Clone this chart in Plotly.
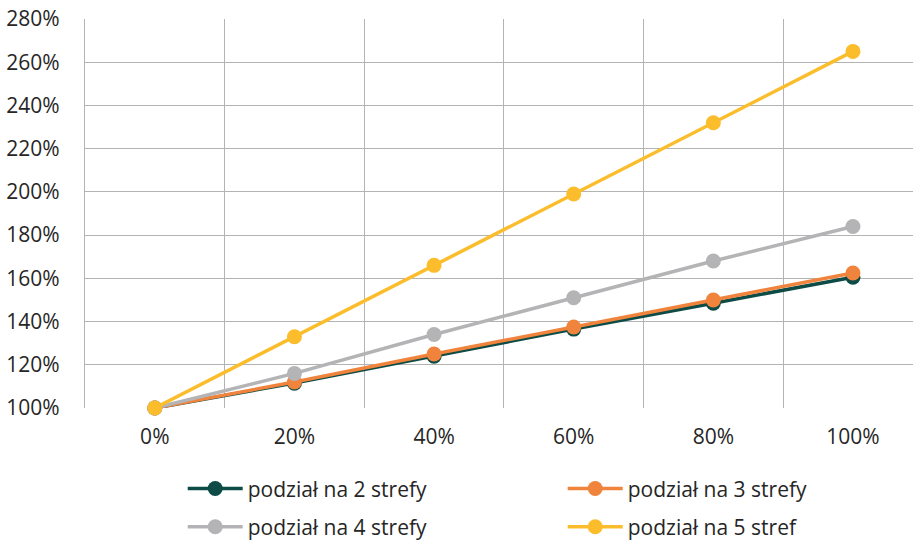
import plotly.graph_objects as go

# Share of area covered (x) and relative value (y, in %) for each zoning variant
categories = ["0%", "20%", "40%", "60%", "80%", "100%"]
zones_2 = [100, 111.5, 124, 136.5, 148.5, 160.5]
zones_3 = [100, 112, 125, 137.5, 150, 162.5]
zones_4 = [100, 116, 134, 151, 168, 184]
zones_5 = [100, 133, 166, 199, 232, 265]
y_ticks = [100, 120, 140, 160, 180, 200, 220, 240, 260, 280]
y_tick_labels = [f"{v}%" for v in y_ticks]

series = [
    ("podział na 2 strefy", zones_2, "#0c4b46", "legend"),
    ("podział na 3 strefy", zones_3, "#f0843c", "legend"),
    ("podział na 4 strefy", zones_4, "#b4b4b6", "legend2"),
    ("podział na 5 stref", zones_5, "#fbbd2b", "legend2"),
]

FONT = "Open Sans, DejaVu Sans, sans-serif"
TEXT = "#262626"
GRID = "#b3b3b3"
FS = 21

fig = go.Figure()
for name, values, color, leg in series:
    fig.add_trace(go.Scatter(
        x=categories, y=values, name=name, mode="lines+markers",
        line=dict(color=color, width=3.5),
        marker=dict(color=color, size=15),
        cliponaxis=False, legend=leg,
    ))

legend_common = dict(
    orientation="h", xanchor="left", yanchor="middle",
    font=dict(family=FONT, size=FS, color=TEXT),
    entrywidth=310, entrywidthmode="pixels", itemwidth=55,
    bgcolor="rgba(0,0,0,0)", borderwidth=0,
    itemclick=False, itemdoubleclick=False,
)

fig.update_layout(
    width=913, height=540,
    margin=dict(l=85, r=0, t=19, b=132, autoexpand=False),
    paper_bgcolor="white", plot_bgcolor="white",
    font=dict(family=FONT, size=FS, color=TEXT),
    showlegend=True,
    legend=dict(x=0.118, y=-0.208, **legend_common),
    legend2=dict(x=0.118, y=-0.306, **legend_common),
    xaxis=dict(
        type="category", range=[-0.5, 5.43],
        tickson="boundaries", showgrid=True, gridcolor=GRID, gridwidth=1.3,
        showline=False, ticks="", ticklabelstandoff=14,
        tickfont=dict(family=FONT, size=FS, color=TEXT),
        zeroline=False, fixedrange=True,
    ),
    yaxis=dict(
        range=[100, 280], tickmode="array", tickvals=y_ticks, ticktext=y_tick_labels,
        showgrid=True, gridcolor=GRID, gridwidth=1.3,
        showline=True, linecolor=GRID, linewidth=1.3,
        ticks="", ticklabelstandoff=20,
        tickfont=dict(family=FONT, size=FS, color=TEXT),
        zeroline=False, fixedrange=True,
    ),
)

fig.write_html("out.html")
